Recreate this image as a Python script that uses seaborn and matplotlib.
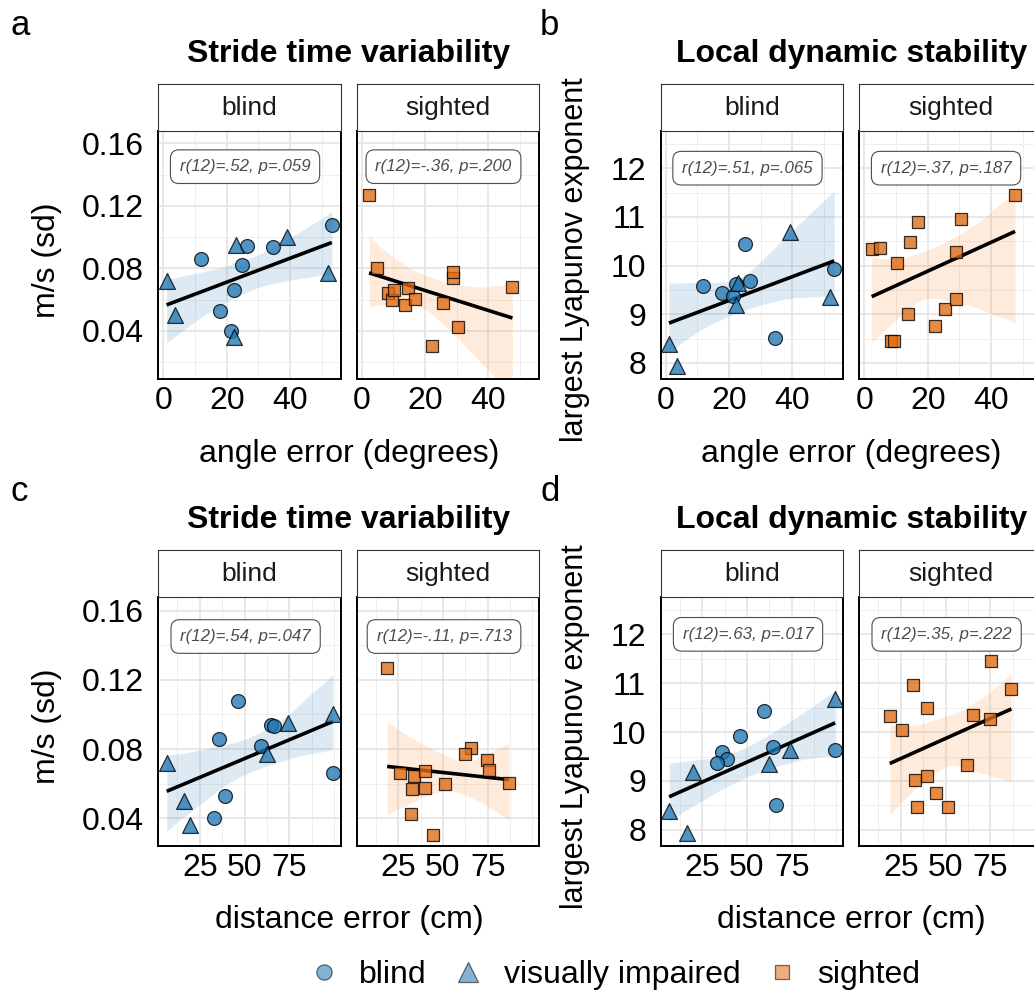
import matplotlib

matplotlib.use('Agg')
import matplotlib.pyplot as plt
from matplotlib.lines import Line2D
from matplotlib.ticker import FixedLocator
import numpy as np
import pandas as pd
import seaborn as sns

W, H = 1034, 996

# blind facet: 8 blind (circle) + 6 visually impaired (triangle)
blind_group = ['blind'] * 8 + ['visually impaired'] * 6
blind_angle = [11.8, 17.9, 21.3, 22.2, 24.9, 26.5, 34.6, 53.2, 1.0, 3.6, 22.3, 22.8, 39.2, 52.0]
blind_dist = [35.8, 39.1, 33.0, 99.3, 59.3, 64.6, 66.4, 46.2, 6.5, 16.4, 19.6, 74.1, 99.3, 62.6]
blind_stv = [0.086, 0.053, 0.040, 0.066, 0.082, 0.094, 0.0935, 0.108, 0.072, 0.050, 0.036, 0.095, 0.100, 0.077]
blind_lle = [9.59, 9.44, 9.37, 9.63, 10.44, 9.69, 8.51, 9.93, 8.38, 7.93, 9.18, 9.64, 10.68, 9.35]

# sighted facet
sighted_angle = [2.3, 4.9, 8.4, 9.4, 10.3, 13.8, 14.5, 16.8, 22.2, 25.5, 28.8, 28.9, 30.5, 47.6]
sighted_dist = [18.8, 65.5, 34.0, 51.4, 25.8, 32.8, 39.7, 86.8, 44.6, 39.9, 74.7, 62.1, 32.0, 75.6]
sighted_stv = [0.127, 0.0804, 0.0645, 0.0596, 0.066, 0.0569, 0.0673, 0.0606, 0.0304, 0.0577, 0.0738, 0.0774, 0.0427, 0.068]
sighted_lle = [10.33, 10.36, 8.46, 8.46, 10.05, 9.01, 10.49, 10.89, 8.76, 9.10, 10.27, 9.32, 10.96, 11.45]

facets = ['blind', 'sighted']
groups = ['blind', 'visually impaired', 'sighted']

# correlation labels (panel -> [blind, sighted])
stat_labels = {
    'a': ['r(12)=.52, p=.059', 'r(12)=-.36, p=.200'],
    'b': ['r(12)=.51, p=.065', 'r(12)=.37, p=.187'],
    'c': ['r(12)=.54, p=.047', 'r(12)=-.11, p=.713'],
    'd': ['r(12)=.63, p=.017', 'r(12)=.35, p=.222'],
}

angle_ticks = [0, 20, 40]
dist_ticks = [25, 50, 75]
stv_ticks = [0.04, 0.08, 0.12, 0.16]
stv_ticklabels = ['0.04', '0.08', '0.12', '0.16']
lle_ticks = [8, 9, 10, 11, 12]

df = pd.DataFrame({
    'facet': ['blind'] * 14 + ['sighted'] * 14,
    'group': blind_group + ['sighted'] * 14,
    'angle': blind_angle + sighted_angle,
    'dist': blind_dist + sighted_dist,
    'stv': blind_stv + sighted_stv,
    'lle': blind_lle + sighted_lle,
})

fill = {'blind': '#1f77b4', 'visually impaired': '#1f77b4', 'sighted': '#e06a12'}
band = {'blind': '#1f77b4', 'sighted': '#ff7f0e'}
marker = {'blind': 'o', 'visually impaired': '^', 'sighted': 's'}
msize = {'blind': 100, 'visually impaired': 130, 'sighted': 72}

sns.set_style('white')
plt.rcParams['font.family'] = ['Liberation Sans', 'DejaVu Sans']
plt.rcParams['text.color'] = 'black'

fig = plt.figure(figsize=(W / 100, H / 100), dpi=100)


def box(l, t, r, b):
    return [l / W, 1 - b / H, (r - l) / W, (b - t) / H]


cols = {'left': [(158.3, 341.0), (356.7, 539.4)], 'right': [(660.7, 843.4), (859.3, 1042.0)]}
rows = {'top': (84.3, 130.7, 379.0), 'bottom': (550.0, 596.7, 846.0)}
dy = 465.7
FS = 23

panels = [
    dict(key='a', col='left', row='top', x='angle', y='stv', title='Stride time variability',
         xlabel='angle error (degrees)', ylabel='m/s (sd)', xlim=(-1.6, 56.1), ylim=(0.0093, 0.168),
         xt=angle_ticks, xm=[10, 30, 50], yt=stv_ticks, ytl=stv_ticklabels,
         ym=[0.02, 0.06, 0.10, 0.14], lx=25.8, ly=0.145),
    dict(key='b', col='right', row='top', x='angle', y='lle', title='Local dynamic stability',
         xlabel='angle error (degrees)', ylabel='largest Lyapunov exponent', xlim=(-1.6, 56.1),
         ylim=(7.67, 12.77), xt=angle_ticks, xm=[10, 30, 50], yt=lle_ticks,
         ytl=[str(v) for v in lle_ticks], ym=[8.5, 9.5, 10.5, 11.5, 12.5], lx=25.8, ly=12.0),
    dict(key='c', col='left', row='bottom', x='dist', y='stv', title='Stride time variability',
         xlabel='distance error (cm)', ylabel='m/s (sd)', xlim=(1.8, 103.9), ylim=(0.024, 0.168),
         xt=dist_ticks, xm=[12.5, 37.5, 62.5, 87.5, 100], yt=stv_ticks, ytl=stv_ticklabels,
         ym=[0.06, 0.10, 0.14], lx=50.6, ly=0.145),
    dict(key='d', col='right', row='bottom', x='dist', y='lle', title='Local dynamic stability',
         xlabel='distance error (cm)', ylabel='largest Lyapunov exponent', xlim=(1.8, 103.9),
         ylim=(7.67, 12.77), xt=dist_ticks, xm=[12.5, 37.5, 62.5, 87.5, 100], yt=lle_ticks,
         ytl=[str(v) for v in lle_ticks], ym=[8.5, 9.5, 10.5, 11.5, 12.5], lx=50.6, ly=12.0),
]

for p in panels:
    st, pt, pb = rows[p['row']]
    fx = cols[p['col']]
    for i, facet in enumerate(facets):
        l, r = fx[i]
        ax = fig.add_axes(box(l, pt, r, pb))
        sub = df[df.facet == facet]
        # CI band, then black fit line
        sns.regplot(data=sub, x=p['x'], y=p['y'], ax=ax, scatter=False, ci=95, n_boot=2000,
                    seed=7, color=band[facet], line_kws={'linewidth': 0})
        sns.regplot(data=sub, x=p['x'], y=p['y'], ax=ax, scatter=False, ci=None,
                    color='black', line_kws={'linewidth': 2.6, 'solid_capstyle': 'butt'})
        for g in groups:
            gs = sub[sub.group == g]
            if len(gs) == 0:
                continue
            sns.scatterplot(data=gs, x=p['x'], y=p['y'], ax=ax, marker=marker[g], s=msize[g],
                            color=fill[g], edgecolor='black', linewidth=0.9, alpha=0.78,
                            zorder=3, legend=False)
        ax.text(p['lx'], p['ly'], stat_labels[p['key']][i], ha='center', va='center',
                fontsize=12.2, style='italic', color='#4d4d4d', zorder=5,
                bbox=dict(boxstyle='round,pad=0.55,rounding_size=0.5', fc='white',
                          ec='#4d4d4d', lw=0.8))
        ax.set_xlim(p['xlim'])
        ax.set_ylim(p['ylim'])
        ax.xaxis.set_major_locator(FixedLocator(p['xt']))
        ax.xaxis.set_minor_locator(FixedLocator(p['xm']))
        ax.yaxis.set_major_locator(FixedLocator(p['yt']))
        ax.yaxis.set_minor_locator(FixedLocator(p['ym']))
        ax.set_xticklabels([str(v) for v in p['xt']])
        ax.grid(which='major', color='#E6E6E6', linewidth=1.3)
        ax.grid(which='minor', color='#EEEEEE', linewidth=0.7)
        ax.set_axisbelow(True)
        ax.tick_params(which='both', length=0, labelsize=FS, colors='black')
        ax.tick_params(axis='x', pad=5)
        ax.tick_params(axis='y', pad=10.5)
        if i == 0:
            ax.set_yticklabels(p['ytl'])
        else:
            ax.set_yticklabels([])
        ax.set_xlabel('')
        ax.set_ylabel('')
        for s in ax.spines.values():
            s.set_color('black')
            s.set_linewidth(1.4)
        # facet strip
        sax = fig.add_axes(box(l, st, r, pt))
        sax.set_xticks([])
        sax.set_yticks([])
        sax.set_facecolor('white')
        for s in sax.spines.values():
            s.set_color('#333333')
            s.set_linewidth(0.8)
        sax.text(0.5, 0.48, facet, ha='center', va='center', fontsize=19, color='#1a1a1a',
                 transform=sax.transAxes)

    cx = (fx[0][0] + fx[1][1]) / 2
    off = 0 if p['row'] == 'top' else dy
    fig.text(cx / W, 1 - (62 + off) / H, p['title'], ha='center', va='baseline',
             fontsize=FS, fontweight='bold')
    fig.text(cx / W, 1 - (454 + off) / H, p['xlabel'], ha='center', va='center', fontsize=FS)
    ylx = 47 if p['col'] == 'left' else 575
    yfs = FS if p['col'] == 'left' else 22
    fig.text(ylx / W, 1 - ((pt + pb) / 2 + 5) / H, p['ylabel'], ha='center', va='center',
             rotation=90, fontsize=yfs)
    lxp = 10 if p['col'] == 'left' else 540
    fig.text(lxp / W, 1 - (35 + off) / H, p['key'], ha='left', va='baseline', fontsize=25)

handles = [Line2D([], [], ls='', marker=marker[g], ms=ms, mfc=fill[g], mec='black', mew=0.9,
                  alpha=0.55, label=g)
           for g, ms in zip(groups, [11, 14, 10])]
fig.legend(handles=handles, loc='center', bbox_to_anchor=(614 / W, 1 - 975 / H), ncol=3,
           frameon=False, fontsize=FS, handlelength=1.0, handletextpad=0.6, columnspacing=0.8)

fig.savefig('out.png', dpi=100)
